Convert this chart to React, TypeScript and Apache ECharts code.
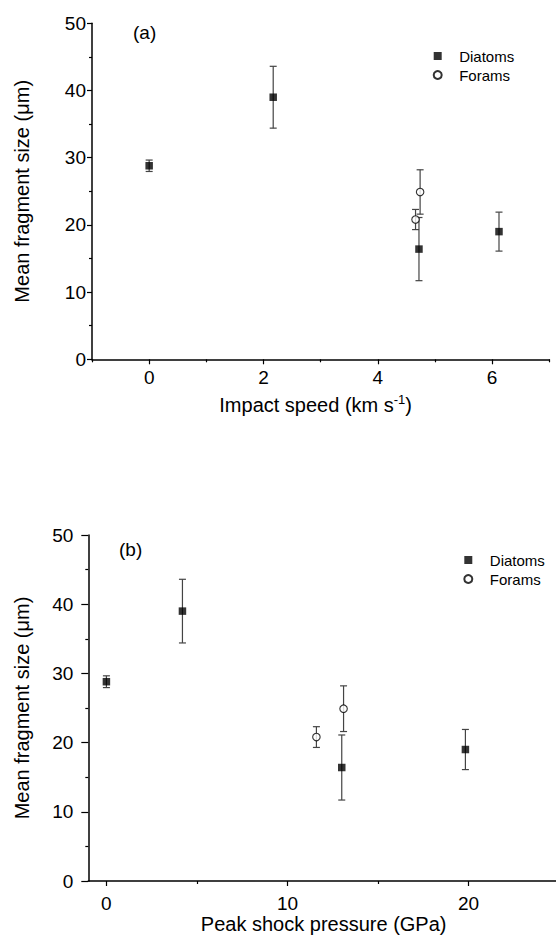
import React, { useEffect, useRef } from "react";
import * as echarts from "echarts";

// ---- data ----
const seriesNames = ["Diatoms", "Forams"];
const diatomSpeed = [0, 2.17, 4.72, 6.12]; // km s-1
const diatomPressure = [0, 4.2, 13.0, 19.83]; // GPa
const diatomSize = [28.8, 39.0, 16.4, 19.0]; // µm
const diatomErr = [0.85, 4.6, 4.7, 2.9];
const foramSpeed = [4.66, 4.74];
const foramPressure = [11.6, 13.1];
const foramSize = [20.8, 24.9];
const foramErr = [1.5, 3.3];

const speedTicks = [0, 2, 4, 6];
const speedMinorTicks = [-1, 1, 3, 5, 7];
const pressureTicks = [0, 10, 20];
const pressureMinorTicks = [5, 15, 25];

const FONT = "Liberation Sans, Arial, Helvetica, sans-serif";
const ERR_COLOR = "#444";

function zip(xs: number[], ys: number[], es?: number[]) {
  return xs.map((x, i) => (es ? [x, ys[i], es[i]] : [x, ys[i]]));
}

function errRender(params: any, api: any) {
  const x = api.value(0);
  const y = api.value(1);
  const e = api.value(2);
  const top = api.coord([x, y + e]);
  const bot = api.coord([x, y - e]);
  const hw = 3.5;
  const style = { stroke: ERR_COLOR, lineWidth: 1.2 };
  return {
    type: "group",
    children: [
      { type: "line", shape: { x1: top[0], y1: top[1], x2: bot[0], y2: bot[1] }, style },
      { type: "line", shape: { x1: top[0] - hw, y1: top[1], x2: top[0] + hw, y2: top[1] }, style },
      { type: "line", shape: { x1: bot[0] - hw, y1: bot[1], x2: bot[0] + hw, y2: bot[1] }, style },
    ],
  };
}

export default function App() {
  const ref = useRef<HTMLDivElement>(null);
  useEffect(() => {
    if (!ref.current) return;
    const chart = echarts.init(ref.current, undefined, { renderer: "svg" });

    const axisLine = { show: true, onZero: false, lineStyle: { color: "#000", width: 1.5 } };
    const tickLabel = { color: "#000", fontSize: 19, fontFamily: FONT };

    const yAxisBase = (gridIndex: number, tickLen: number, margin: number, gap: number) => ({
      type: "value",
      gridIndex,
      position: "left",
      min: 0,
      max: 50,
      interval: 10,
      axisLine,
      axisTick: { show: true, inside: false, length: tickLen, lineStyle: { color: "#000", width: 1.2 } },
      minorTick: { show: true, splitNumber: 2, length: 3, lineStyle: { color: "#000", width: 1.2 } },
      axisLabel: { ...tickLabel, margin },
      splitLine: { show: false },
      minorSplitLine: { show: false },
      name: "Mean fragment size (\u03bcm)",
      nameLocation: "middle",
      nameGap: gap,
      nameRotate: 90,
      nameTextStyle: { color: "#000", fontSize: 20, fontFamily: FONT },
    });

    const minorX = (gridIndex: number, min: number, max: number, vals: number[]) => ({
      type: "value",
      gridIndex,
      position: "bottom",
      min,
      max,
      axisLine: { show: false, onZero: false },
      axisTick: { show: true, length: 3, customValues: vals, lineStyle: { color: "#000", width: 1.2 } },
      axisLabel: { show: false },
      splitLine: { show: false },
    });

    const legendBase = {
      data: seriesNames,
      orient: "vertical",
      itemWidth: 8,
      itemHeight: 8,
      itemGap: 1,
      textStyle: { color: "#000", fontSize: 15, fontFamily: FONT, lineHeight: 18, padding: [0, 0, 0, 12.5] },
      selectedMode: false,
    };

    const option: any = {
      animation: false,
      backgroundColor: "#fff",
      textStyle: { fontFamily: FONT },
      grid: [
        { left: 92, top: 23.3, width: 457.3, height: 336, outerBoundsMode: "none" },
        { left: 88.3, top: 535, width: 470.7, height: 346, outerBoundsMode: "none" },
      ],
      legend: [
        { ...legendBase, left: 427.7, top: 42 },
        { ...legendBase, left: 458.3, top: 546 },
      ],
      xAxis: [
        {
          type: "value",
          gridIndex: 0,
          position: "bottom",
          min: -1,
          max: 7,
          axisLine,
          axisTick: { show: true, length: 5, customValues: speedTicks, lineStyle: { color: "#000", width: 1.2 } },
          axisLabel: { ...tickLabel, margin: 9, customValues: speedTicks },
          splitLine: { show: false },
          name: "{a|Impact speed (km s}{b|-1}{a|)}",
          nameLocation: "middle",
          nameGap: 34,
          nameTextStyle: {
            color: "#000",
            fontFamily: FONT,
            padding: [0, 10, 0, 0],
            rich: {
              a: { fontSize: 20, lineHeight: 24, fontFamily: FONT, color: "#000" },
              b: { fontSize: 13, lineHeight: 13, verticalAlign: "top", fontFamily: FONT, color: "#000" },
            },
          },
        },
        minorX(0, -1, 7, speedMinorTicks),
        {
          type: "value",
          gridIndex: 1,
          position: "bottom",
          min: -1,
          max: 25,
          axisLine,
          axisTick: { show: true, length: 5, customValues: pressureTicks, lineStyle: { color: "#000", width: 1.2 } },
          axisLabel: { ...tickLabel, margin: 13, customValues: pressureTicks },
          splitLine: { show: false },
          name: "Peak shock pressure (GPa)",
          nameLocation: "middle",
          nameGap: 30,
          nameTextStyle: { color: "#000", fontSize: 20, fontFamily: FONT },
        },
        minorX(1, -1, 25, pressureMinorTicks),
      ],
      yAxis: [yAxisBase(0, 5, 6, 60), yAxisBase(1, 7, 15, 56)],
      graphic: [
        { type: "text", left: 133, top: 23, style: { text: "(a)", fontSize: 19, fontFamily: FONT, fill: "#000" } },
        { type: "text", left: 119, top: 540, style: { text: "(b)", fontSize: 19, fontFamily: FONT, fill: "#000" } },
      ],
      series: [
        // panel (a)
        {
          type: "custom",
          name: "Diatoms err a",
          xAxisIndex: 0,
          yAxisIndex: 0,
          data: zip(diatomSpeed, diatomSize, diatomErr),
          renderItem: errRender,
          encode: { x: 0, y: 1 },
          z: 1,
          silent: true,
        },
        {
          type: "custom",
          name: "Forams err a",
          xAxisIndex: 0,
          yAxisIndex: 0,
          data: zip(foramSpeed, foramSize, foramErr),
          renderItem: errRender,
          encode: { x: 0, y: 1 },
          z: 1,
          silent: true,
        },
        {
          type: "scatter",
          name: "Diatoms",
          xAxisIndex: 0,
          yAxisIndex: 0,
          data: zip(diatomSpeed, diatomSize),
          symbol: "rect",
          symbolSize: 7.5,
          itemStyle: { color: "#000" },
          z: 3,
        },
        {
          type: "scatter",
          name: "Forams",
          xAxisIndex: 0,
          yAxisIndex: 0,
          data: zip(foramSpeed, foramSize),
          symbol: "circle",
          symbolSize: 7.5,
          itemStyle: { color: "#fff", borderColor: "#000", borderWidth: 1.1 },
          z: 3,
        },
        // panel (b)
        {
          type: "custom",
          name: "Diatoms err b",
          xAxisIndex: 2,
          yAxisIndex: 1,
          data: zip(diatomPressure, diatomSize, diatomErr),
          renderItem: errRender,
          encode: { x: 0, y: 1 },
          z: 1,
          silent: true,
        },
        {
          type: "custom",
          name: "Forams err b",
          xAxisIndex: 2,
          yAxisIndex: 1,
          data: zip(foramPressure, foramSize, foramErr),
          renderItem: errRender,
          encode: { x: 0, y: 1 },
          z: 1,
          silent: true,
        },
        {
          type: "scatter",
          name: "Diatoms",
          xAxisIndex: 2,
          yAxisIndex: 1,
          data: zip(diatomPressure, diatomSize),
          symbol: "rect",
          symbolSize: 7.5,
          itemStyle: { color: "#000" },
          z: 3,
        },
        {
          type: "scatter",
          name: "Forams",
          xAxisIndex: 2,
          yAxisIndex: 1,
          data: zip(foramPressure, foramSize),
          symbol: "circle",
          symbolSize: 7.5,
          itemStyle: { color: "#fff", borderColor: "#000", borderWidth: 1.1 },
          z: 3,
        },
      ],
    };
    chart.setOption(option);
    return () => chart.dispose();
  }, []);
  return (
    <div
      ref={ref}
      style={{ position: "absolute", left: 0, top: 0, width: 556, height: 941, overflow: "hidden" }}
    />
  );
}
